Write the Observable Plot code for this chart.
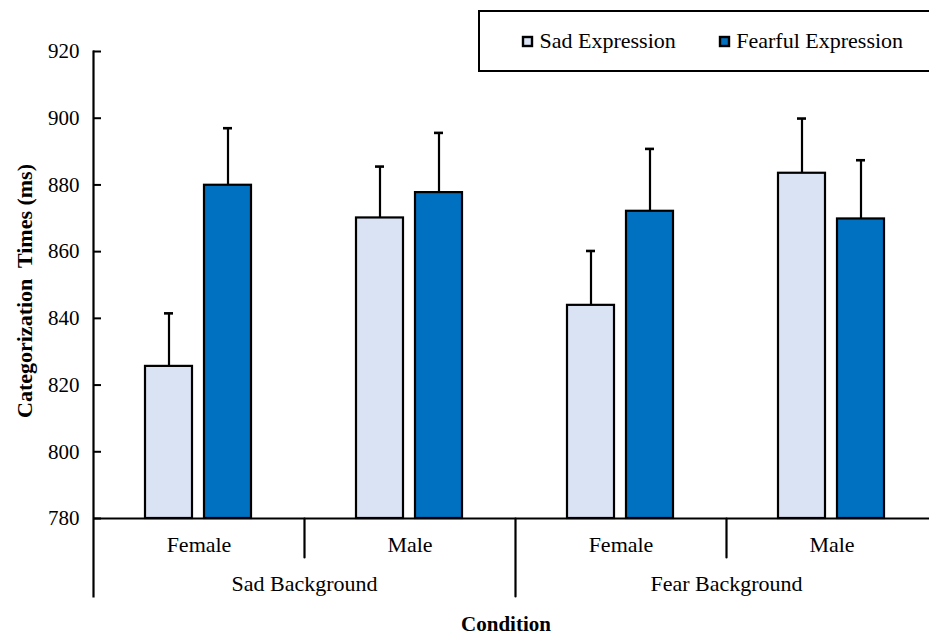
<!DOCTYPE html>
<html>
<head>
<meta charset="utf-8">
<script src="https://cdn.jsdelivr.net/npm/d3@7"></script>
<script src="https://cdn.jsdelivr.net/npm/@observablehq/plot@0.6"></script>
<style>
  body { margin: 0; background: #fff; }
  #wrap { position: relative; width: 929px; height: 635px; overflow: hidden; font-family: "Liberation Serif", "Times New Roman", Times, Tinos, "DejaVu Serif", serif; }
  #chart svg, #chart svg text { font-family: "Liberation Serif", "Times New Roman", Times, Tinos, "DejaVu Serif", serif !important; }
  #legend { position: absolute; left: 478px; top: 10px; width: 480px; height: 58px; border: 2px solid #000;
            background: #fff; display: flex; align-items: center; padding-left: 43px; box-sizing: content-box; }
  #legend .lg-swatches, #legend .lg-swatch { font-family: "Liberation Serif", "Times New Roman", Times, Tinos, "DejaVu Serif", serif !important; font-size: 22px !important; color: #000; }
  #legend .lg-swatches { margin: 0 !important; min-height: 0 !important; }
  #legend .lg-swatch { margin-right: 44px !important; }
  #legend .lg-swatch > svg { margin-right: 7.5px !important; overflow: visible; }
  #legend .lg-swatch > svg rect { stroke: #000; stroke-width: 2.4px; }
</style>
</head>
<body>
<div id="wrap"><div id="chart"></div><div id="legend"></div></div>
<script>
// ---- data ----
const backgrounds = ["Sad Background", "Fear Background"];
const genders = ["Female", "Male"];
const expressions = ["Sad Expression", "Fearful Expression"];
const sadMeans   = [825.6, 870.1, 843.9, 883.5];
const sadErrors  = [15.9, 15.4, 16.3, 16.4];
const fearMeans  = [879.9, 877.7, 872.1, 869.8];
const fearErrors = [17.1, 17.9, 18.7, 17.6];
const yTicks = [780, 800, 820, 840, 860, 880, 900, 920];
const colors = ["#DAE3F3", "#0070C0"];
const yLabel = "Categorization  Times (ms)";
const xLabel = "Condition";

// ---- table built from the arrays ----
const conditions = backgrounds.flatMap(bg => genders.map(g => `${bg}|${g}`));
const rows = conditions.flatMap((c, i) => [
  {cond: c, expr: expressions[0], mean: sadMeans[i], err: sadErrors[i]},
  {cond: c, expr: expressions[1], mean: fearMeans[i], err: fearErrors[i]}
]);
const base = yTicks[0];
const lineShape = {draw(context, l) { context.moveTo(0, 0); context.lineTo(0, -l); }};
const shortSeps = backgrounds.map(bg => `${bg}|${genders[0]}`);
const longSeps = backgrounds.map(bg => `${bg}|${genders[genders.length - 1]}`);
const serif = '"Liberation Serif", "Times New Roman", Times, Tinos, "DejaVu Serif", serif';

const chart = Plot.plot({
  width: 929,
  height: 635,
  marginLeft: 92,
  marginRight: -8,
  marginTop: 51,
  marginBottom: 117,
  style: {fontFamily: serif, fontSize: "21px", color: "#000", background: "#fff"},
  fx: {domain: conditions, padding: 0, axis: null},
  x: {domain: expressions, paddingInner: 0.2, paddingOuter: 0.86, axis: null},
  y: {domain: [yTicks[0], yTicks[yTicks.length - 1]], axis: null},
  color: {domain: expressions, range: colors},
  marks: [
    Plot.axisY({ticks: yTicks, tickSize: -8, tickPadding: 22, strokeWidth: 2, fontSize: 21, label: null}),
    Plot.axisFx({anchor: "bottom", tickSize: 0, tickPadding: 18, fontSize: 22, label: null,
                 tickFormat: d => d.split("|")[1]}),
    Plot.ruleX(rows, {fx: "cond", x: "expr", y1: "mean", y2: d => d.mean + d.err, strokeWidth: 2.2}),
    Plot.tickY(rows, {fx: "cond", x: "expr", y: d => d.mean + d.err, strokeWidth: 2.6, inset: 19}),
    Plot.barY(rows, {fx: "cond", x: "expr", y1: () => base, y2: "mean", fill: "expr", stroke: "#000", strokeWidth: 2.2}),
    Plot.ruleY([base], {strokeWidth: 2.2}),
    Plot.frame({anchor: "left", facetAnchor: "left", insetBottom: -78, strokeWidth: 2.2}),
    Plot.vector(shortSeps, {fx: d => d, frameAnchor: "bottom-right", length: 39, rotate: 180, anchor: "start",
                            shape: lineShape, stroke: "#000", strokeWidth: 2.2}),
    Plot.vector(longSeps, {fx: d => d, frameAnchor: "bottom-right", length: 78, rotate: 180, anchor: "start",
                           shape: lineShape, stroke: "#000", strokeWidth: 2.2}),
    Plot.text(backgrounds, {fx: bg => `${bg}|${genders[0]}`, text: d => d, frameAnchor: "bottom-right",
                            textAnchor: "middle", lineAnchor: "middle", dy: 65, fontSize: 22}),
    Plot.text([xLabel], {facet: "super", text: d => d, frameAnchor: "bottom", textAnchor: "middle",
                         lineAnchor: "middle", dx: -9.5, dy: 106, fontSize: 21, fontWeight: "bold"}),
    Plot.text([yLabel], {facet: "super", text: d => d, frameAnchor: "left", textAnchor: "middle",
                         lineAnchor: "middle", rotate: -90, dx: -69, dy: 6, fontSize: 22, fontWeight: "bold"})
  ]
});
document.getElementById("chart").appendChild(chart);
document.getElementById("legend").appendChild(
  chart.legend("color", {legend: "swatches", swatchSize: 9, className: "lg"})
);
</script>
</body>
</html>
